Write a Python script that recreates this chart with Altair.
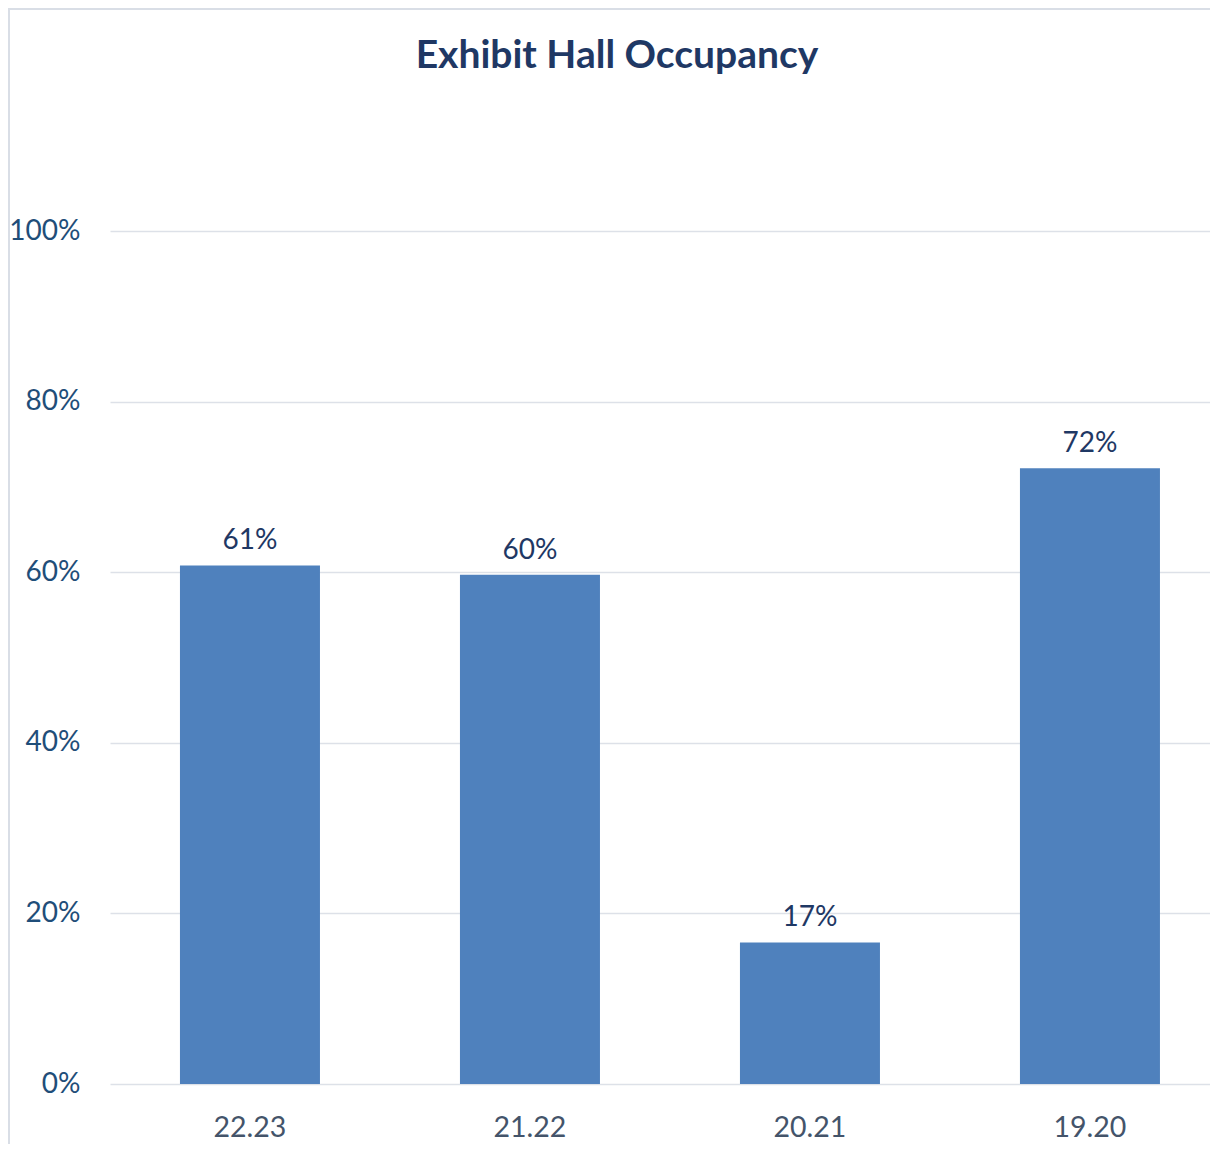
import altair as alt
import pandas as pd

seasons = ["22.23", "21.22", "20.21", "19.20"]
occupancy = [0.608, 0.597, 0.166, 0.722]
y_ticks = [0, 0.2, 0.4, 0.6, 0.8, 1.0]
chart_title = "Exhibit Hall Occupancy"

df = pd.DataFrame({"season": seasons, "occupancy": occupancy})

FONT = "Lato"

x = alt.X(
    "season:N",
    sort=seasons,
    title=None,
    scale=alt.Scale(paddingInner=0.5, paddingOuter=0.2143, align=0.583),
    axis=alt.Axis(
        labelAngle=0, domain=False, ticks=False, labelFont=FONT,
        labelFontSize=28.5, labelColor="#44546A", labelPadding=29,
    ),
)
y = alt.Y(
    "occupancy:Q",
    title=None,
    scale=alt.Scale(domain=[0, 1], nice=False),
    axis=alt.Axis(
        values=y_ticks, format=".0%", domain=False, ticks=False,
        labelFont=FONT, labelFontSize=28, labelColor="#1F4E79",
        labelPadding=30, gridColor="#DDE1E8", gridWidth=1.5,
    ),
)

bars = alt.Chart(df).mark_bar(color="#4F81BD").encode(x=x, y=y)

labels = alt.Chart(df).mark_text(
    baseline="bottom", dy=-10, font=FONT, fontSize=28, color="#1F3864"
).encode(x=x, y=y, text=alt.Text("occupancy:Q", format=".0%"))

frame = alt.Chart(pd.DataFrame({"a": [0]})).mark_rect(
    fillOpacity=0, stroke="#D9DEE6", strokeWidth=2
).encode(
    x=alt.value(-101), x2=alt.value(1200), y=alt.value(-222), y2=alt.value(1000)
)

chart = (
    alt.layer(frame, bars, labels)
    .properties(
        width=1100,
        height=853,
        autosize=alt.AutoSizeParams(type="none"),
        padding={"left": 102, "top": 223, "right": 0, "bottom": 60},
        title=alt.TitleParams(
            chart_title, font=FONT, fontSize=39, fontWeight="bold",
            color="#1F3864", anchor="middle", frame="group", offset=-68, dx=-43,
        ),
    )
    .configure_view(strokeWidth=0)
)

chart.save("out.html", embed_options={"renderer": "svg", "actions": False})
